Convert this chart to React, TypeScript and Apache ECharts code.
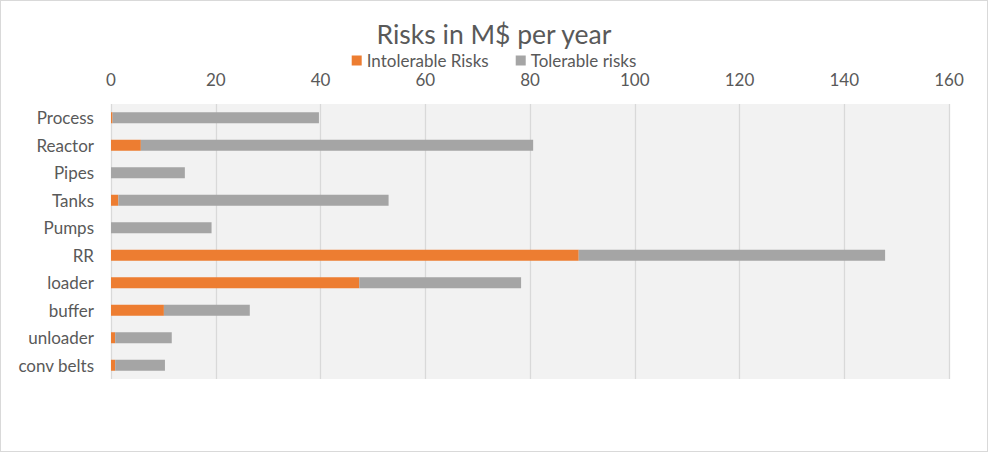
import React, { useEffect, useRef } from "react";
import * as echarts from "echarts";

const categories = ["Process", "Reactor", "Pipes", "Tanks", "Pumps", "RR", "loader", "buffer", "unloader", "conv belts"];
const intolerable = [0.3, 5.7, 0, 1.4, 0, 89.3, 47.4, 10.1, 0.8, 0.8];
const tolerable = [39.4, 74.9, 14.1, 51.6, 19.2, 58.5, 30.9, 16.4, 10.8, 9.5];
const seriesNames = ["Intolerable Risks", "Tolerable risks"];
const titleText = "Risks in M$ per year";

const FONT = "Lato, 'Open Sans', sans-serif";

export default function App() {
  const ref = useRef<HTMLDivElement>(null);
  useEffect(() => {
    document.body.style.margin = "0";
    const chart = echarts.init(ref.current!, null, { renderer: "svg" });
    chart.setOption({
      animation: false,
      backgroundColor: "#FFFFFF",
      textStyle: { fontFamily: FONT },
      title: {
        text: titleText,
        left: "center",
        top: 14,
        textStyle: { fontFamily: FONT, fontSize: 26.5, fontWeight: "normal", color: "#595959" },
      },
      legend: {
        top: 51,
        left: "center",
        padding: 0,
        itemWidth: 10,
        itemHeight: 10,
        itemGap: 27,
        icon: "rect",
        textStyle: { fontFamily: FONT, fontSize: 17, lineHeight: 15, color: "#595959", padding: [0, 0, 0, 0] },
        data: seriesNames,
      },
      grid: {
        left: 110,
        right: 38,
        top: 103,
        bottom: 72,
        show: true,
        backgroundColor: "#F2F2F2",
        borderWidth: 0,
      },
      xAxis: {
        type: "value",
        position: "top",
        min: 0,
        max: 160,
        interval: 20,
        axisLine: { show: false },
        axisTick: { show: false },
        splitLine: { show: true, lineStyle: { color: "#D9D9D9", width: 1.3 } },
        axisLabel: { fontFamily: FONT, fontSize: 17, lineHeight: 15, color: "#595959", margin: 17 },
      },
      yAxis: {
        type: "category",
        data: categories,
        inverse: true,
        axisLine: { show: false },
        axisTick: { show: false },
        axisLabel: { fontFamily: FONT, fontSize: 17, color: "#595959", margin: 17 },
      },
      series: [
        {
          name: seriesNames[0],
          type: "bar",
          stack: "total",
          data: intolerable,
          barWidth: 11,
          itemStyle: { color: "#ED7D31" },
        },
        {
          name: seriesNames[1],
          type: "bar",
          stack: "total",
          data: tolerable,
          barWidth: 11,
          itemStyle: { color: "#A5A5A5" },
        },
      ],
    });
    return () => chart.dispose();
  }, []);
  return (
    <div
      style={{
        position: "absolute",
        left: 0,
        top: 0,
        width: 988,
        height: 452,
        boxSizing: "border-box",
        border: "1px solid #D9D9D9",
        background: "#fff",
      }}
    >
      <div ref={ref} style={{ width: 986, height: 450 }} />
    </div>
  );
}
